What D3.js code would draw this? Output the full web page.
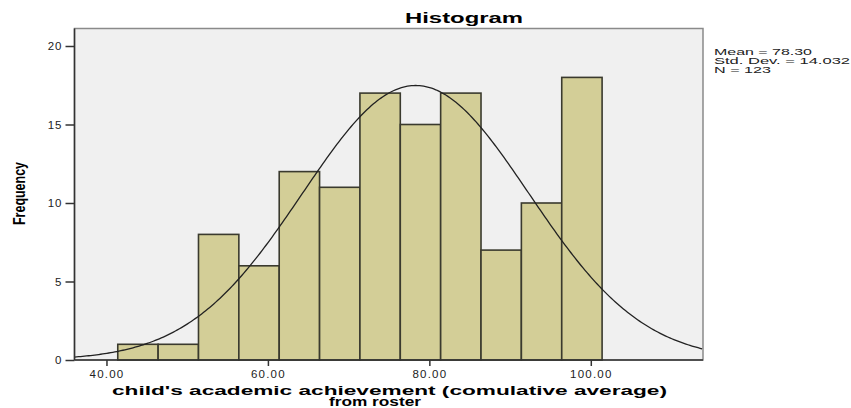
<!DOCTYPE html>
<html><head><meta charset="utf-8">
<script src="https://cdn.jsdelivr.net/npm/d3@7"></script>
<style>body{margin:0;background:#fff}svg{display:block}text{font-family:Arial,"Liberation Sans",sans-serif}</style>
</head><body>
<svg id="c" width="851" height="408"></svg>
<script>
const binStarts = [41.4,46.4,51.4,56.4,61.4,66.4,71.4,76.4,81.4,86.4,91.4,96.4];
const binWidth = 5;
const counts = [1,1,8,6,12,11,17,15,17,7,10,18];
const xTicks = [40,60,80,100];
const yTicks = [0,5,10,15,20];
const stats = {mean:78.30, sd:14.032, n:123};
const legendLines = ["Mean = 78.30","Std. Dev. = 14.032","N = 123"];
const xLabelLines = ["child's academic achievement (comulative average)","from roster"];

const svg = d3.select("#c");
const L=74.5, R=703, T=28.5, B=360;
const x = d3.scaleLinear().domain([36.04,113.9]).range([L,R]);
const y = d3.scaleLinear().domain([0,20]).range([B,46]);

svg.append("rect").attr("x",L).attr("y",T).attr("width",R-L).attr("height",B-T)
  .attr("fill","#f0f0f0").attr("stroke","#8a8a8a").attr("stroke-width",1.5);

svg.append("g").selectAll("rect").data(counts).join("rect")
  .attr("x",(d,i)=>x(binStarts[i]))
  .attr("width",(d,i)=>x(binStarts[i]+binWidth)-x(binStarts[i]))
  .attr("y",d=>y(d)).attr("height",d=>B-y(d))
  .attr("fill","#d3ce97").attr("stroke","#3a3a2e").attr("stroke-width",1.6);

const pts = d3.range(36.04,113.91,0.25).map(v=>[v, stats.n*binWidth/(stats.sd*Math.sqrt(2*Math.PI))*Math.exp(-0.5*((v-stats.mean)/stats.sd)**2)]);
svg.append("path").datum(pts).attr("fill","none").attr("stroke","#222").attr("stroke-width",1.3)
  .attr("d",d3.line().x(d=>x(d[0])).y(d=>y(d[1])));

svg.append("line").attr("x1",L).attr("x2",L).attr("y1",T).attr("y2",B).attr("stroke","#333").attr("stroke-width",1.5);
svg.append("line").attr("x1",L).attr("x2",R).attr("y1",B).attr("y2",B).attr("stroke","#333").attr("stroke-width",1.5);

const ya = svg.append("g").attr("transform",`translate(${L},0)`)
  .call(d3.axisLeft(y).tickValues(yTicks).tickSize(9).tickPadding(3).tickFormat(d3.format("d")));
ya.select(".domain").remove();
ya.selectAll("line").attr("stroke","#333").attr("stroke-width",1.5);
ya.selectAll("text").attr("font-size",11.5).attr("fill","#222").attr("letter-spacing",1);

const xa = svg.append("g").attr("transform",`translate(0,${B})`)
  .call(d3.axisBottom(x).tickValues(xTicks).tickSize(6).tickPadding(4).tickFormat(d3.format(".2f")));
xa.select(".domain").remove();
xa.selectAll("line").attr("stroke","#333").attr("stroke-width",1.5);
xa.selectAll("text").attr("font-size",11.5).attr("fill","#222").attr("letter-spacing",1.2);

svg.append("text").attr("x",405).attr("y",23).attr("font-size",15).attr("font-weight","bold")
  .attr("textLength",118).attr("lengthAdjust","spacingAndGlyphs").text("Histogram");

const xl = svg.append("text").attr("font-size",12).attr("font-weight","bold");
xl.append("tspan").attr("x",112).attr("y",395).attr("textLength",555).attr("lengthAdjust","spacingAndGlyphs").text(xLabelLines[0]);
xl.append("tspan").attr("x",329).attr("y",405.5).attr("textLength",92).attr("lengthAdjust","spacingAndGlyphs").text(xLabelLines[1]);

svg.append("text").attr("transform","translate(25,225) rotate(-90)").attr("font-size",17).attr("font-weight","bold")
  .attr("textLength",63).attr("lengthAdjust","spacingAndGlyphs").text("Frequency");

const lg = svg.append("text").attr("font-size",9.5).attr("fill","#222");
lg.selectAll("tspan").data(legendLines).join("tspan")
  .attr("x",714).attr("y",(d,i)=>54.5+i*9.2)
  .attr("textLength",(d,i)=>[98,136,57][i]).attr("lengthAdjust","spacingAndGlyphs").text(d=>d);
</script>
</body></html>
